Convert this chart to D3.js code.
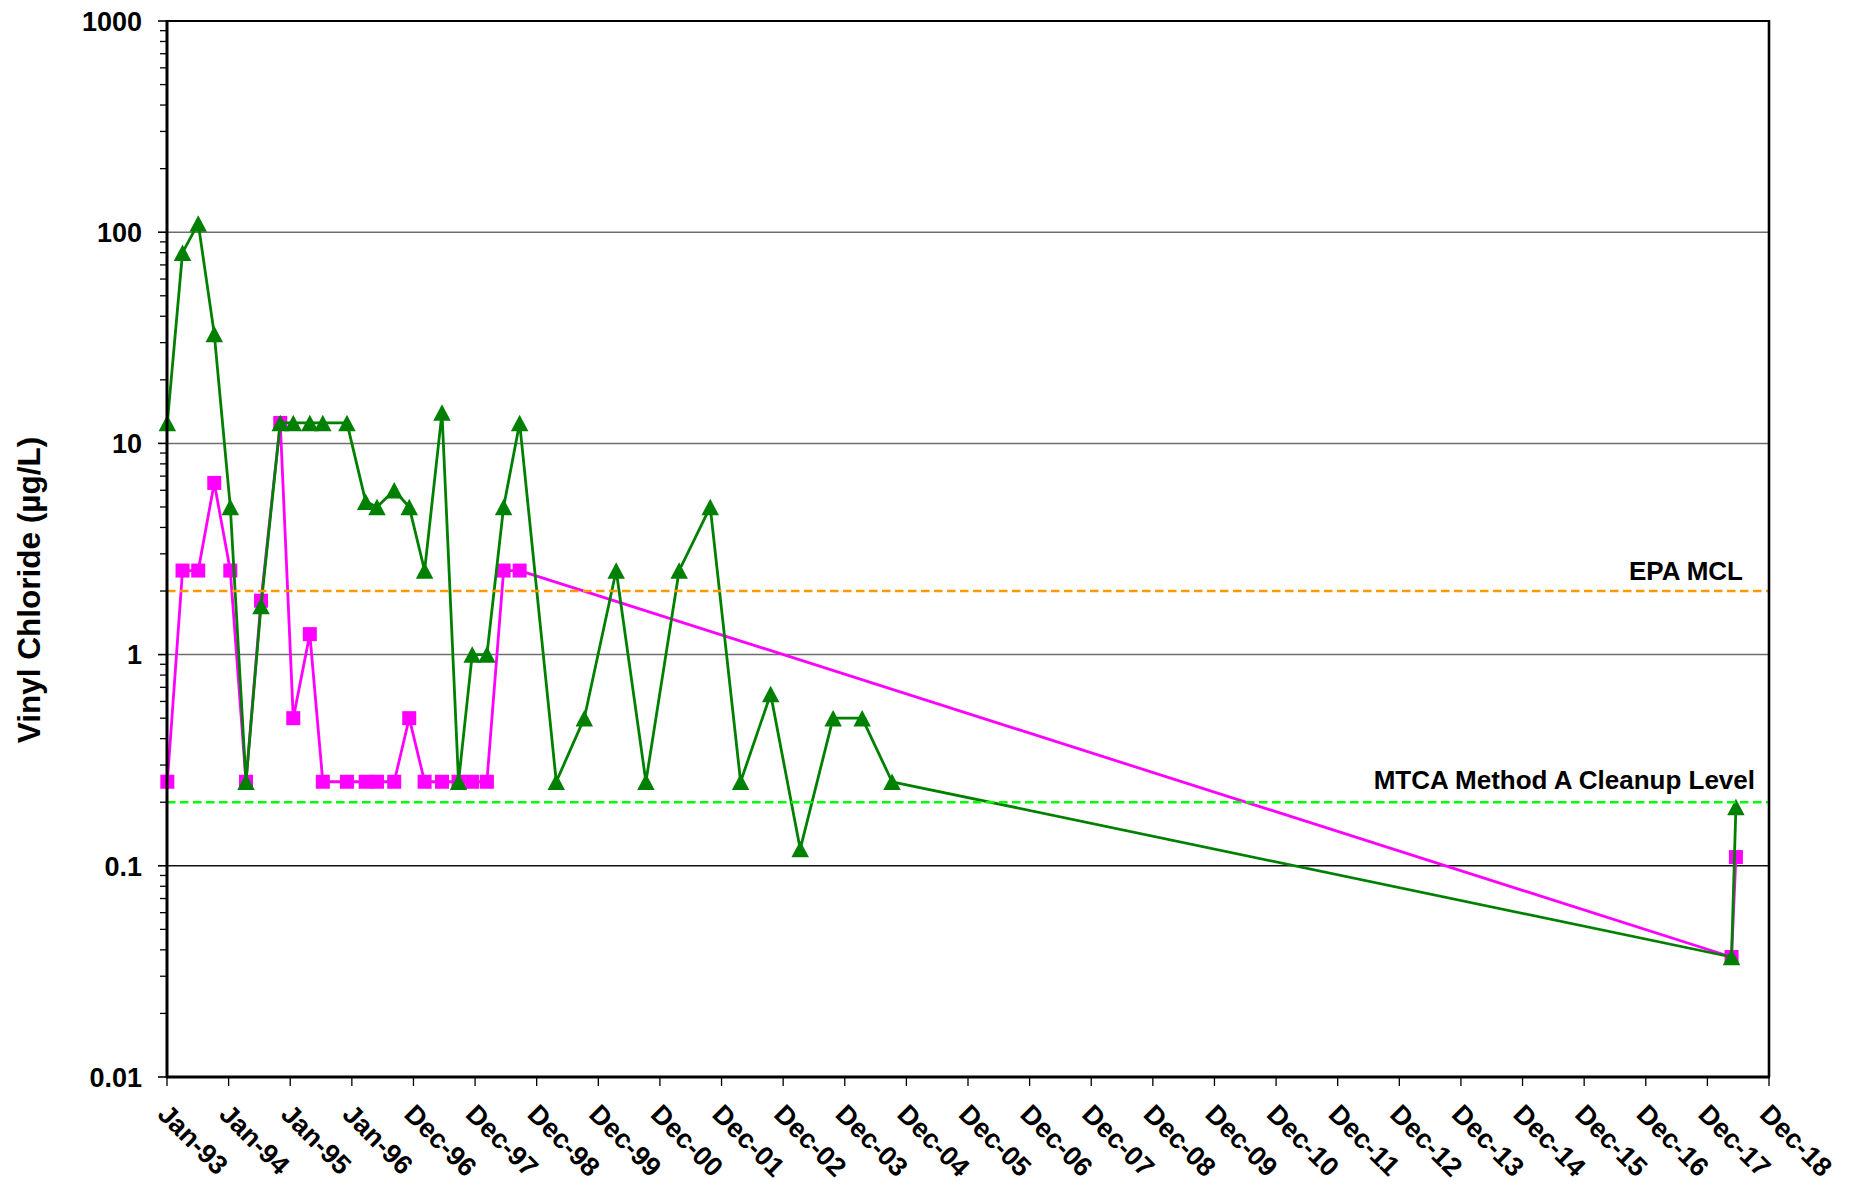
<!DOCTYPE html>
<html>
<head>
<meta charset="utf-8">
<script src="https://cdn.jsdelivr.net/npm/d3@7"></script>
<style>
  html, body { margin: 0; padding: 0; background: #fff; }
  svg { display: block; font-family: "Liberation Sans", Arial, sans-serif; }
</style>
</head>
<body>
<svg id="chart" width="1854" height="1182"></svg>
<script>
// Vinyl chloride concentrations (µg/L), two monitoring series
const earlyDates = ["1993-01-03","1993-04-03","1993-07-05","1993-10-08","1994-01-11","1994-04-14","1994-07-12",
  "1994-11-03","1995-01-19","1995-04-27","1995-07-13","1995-12-03","1996-03-23","1996-05-29","1996-09-08",
  "1996-12-06","1997-03-07","1997-06-18","1997-09-24","1997-12-14","1998-03-11","1998-06-18","1998-09-21"];
const laterDates = ["1999-04-26","1999-10-09","2000-04-15","2000-10-08","2001-04-23","2001-10-24","2002-04-22",
  "2002-10-17","2003-04-10","2003-10-22","2004-04-11","2004-10-05"];
const recentDates = ["2018-05-18","2018-06-13"];

const seriesAValues = [12.5, 80, 110, 33, 5, 0.25, 1.7, 12.5, 12.5, 12.5, 12.5, 12.5, 5.3, 5, 6, 5, 2.5, 14, 0.25, 1, 1, 5, 12.5,
  0.25, 0.5, 2.5, 0.25, 2.5, 5, 0.25, 0.65, 0.12, 0.5, 0.5, 0.25,
  0.037, 0.19];
const seriesBValues = [0.25, 2.5, 2.5, 6.5, 2.5, 0.25, 1.8, 12.5, 0.5, 1.25, 0.25, 0.25, 0.25, 0.25, 0.25, 0.5, 0.25, 0.25, 0.25, 0.25, 0.25, 2.5, 2.5,
  0.037, 0.11];

const seriesADates = earlyDates.concat(laterDates, recentDates);
const seriesBDates = earlyDates.concat(recentDates);

// Regulatory levels
const epaMcl = 2;
const mtcaLevel = 0.2;

const xTickLabels = ["Jan-93","Jan-94","Jan-95","Jan-96","Dec-96","Dec-97","Dec-98","Dec-99","Dec-00","Dec-01",
  "Dec-02","Dec-03","Dec-04","Dec-05","Dec-06","Dec-07","Dec-08","Dec-09","Dec-10","Dec-11","Dec-12","Dec-13",
  "Dec-14","Dec-15","Dec-16","Dec-17","Dec-18"];
const yTickValues = [0.01, 0.1, 1, 10, 100, 1000];
const yTickLabels = ["0.01", "0.1", "1", "10", "100", "1000"];

const parse = d3.timeParse("%Y-%m-%d");
const startDate = parse("1993-01-01");
// date axis ticks are spaced every 365 days
const xTickDates = xTickLabels.map((_, i) => d3.timeDay.offset(startDate, i * 365));

const plot = { left: 167, right: 1769, top: 21, bottom: 1077 };

const svg = d3.select("#chart");
svg.append("rect").attr("width", 1854).attr("height", 1182).attr("fill", "#fff");

const x = d3.scaleTime()
  .domain([startDate, xTickDates[xTickDates.length - 1]])
  .range([plot.left, plot.right]);
const y = d3.scaleLog()
  .domain([0.01, 1000])
  .range([plot.bottom, plot.top]);

// Horizontal gridlines at each decade
const gridVals = [100, 10, 1, 0.1];
svg.append("g").selectAll("line").data(gridVals).join("line")
  .attr("x1", plot.left).attr("x2", plot.right)
  .attr("y1", d => y(d)).attr("y2", d => y(d))
  .attr("stroke", d => d === 0.1 ? "#111" : "#6e6e6e")
  .attr("stroke-width", 1.5);

// Y axis: major and minor ticks (outside)
const minorVals = [];
for (let e = -2; e < 3; e++) for (let m = 2; m <= 9; m++) minorVals.push(m * Math.pow(10, e));
const yAxisG = svg.append("g");
yAxisG.selectAll("line.minor").data(minorVals).join("line")
  .attr("class", "minor")
  .attr("x1", plot.left - 7).attr("x2", plot.left)
  .attr("y1", d => y(d)).attr("y2", d => y(d))
  .attr("stroke", "#000").attr("stroke-width", 1.3);
yAxisG.selectAll("line.major").data(yTickValues).join("line")
  .attr("class", "major")
  .attr("x1", plot.left - 9).attr("x2", plot.left)
  .attr("y1", d => y(d)).attr("y2", d => y(d))
  .attr("stroke", "#000").attr("stroke-width", 1.6);
yAxisG.selectAll("text").data(yTickValues).join("text")
  .attr("x", plot.left - 25)
  .attr("y", d => y(d))
  .attr("dy", "0.36em")
  .attr("text-anchor", "end")
  .attr("font-size", 27).attr("font-weight", "bold")
  .text((d, i) => yTickLabels[i]);

// X axis ticks and rotated labels
const xAxisG = svg.append("g");
xAxisG.selectAll("line").data(xTickDates).join("line")
  .attr("x1", d => x(d)).attr("x2", d => x(d))
  .attr("y1", plot.bottom).attr("y2", plot.bottom + 9)
  .attr("stroke", "#000").attr("stroke-width", 1.3);
xAxisG.selectAll("text").data(xTickDates).join("text")
  .attr("transform", d => `translate(${x(d) + 3},${plot.bottom + 25}) rotate(45)`)
  .attr("dy", "0.72em")
  .attr("text-anchor", "start")
  .attr("font-size", 27).attr("font-weight", "bold")
  .text((d, i) => xTickLabels[i]);

// Y axis title
svg.append("text")
  .attr("transform", `translate(29,${(435 + 745) / 2}) rotate(-90)`)
  .attr("text-anchor", "middle")
  .attr("dy", "0.36em")
  .attr("font-size", 31.5).attr("font-weight", "bold")
  .text("Vinyl Chloride (µg/L)");

// Series
const line = d3.line().x(d => x(d.date)).y(d => y(d.value));
const seriesB = seriesBDates.map((s, i) => ({ date: parse(s), value: seriesBValues[i] }));
const seriesA = seriesADates.map((s, i) => ({ date: parse(s), value: seriesAValues[i] }));

svg.append("path").datum(seriesB)
  .attr("d", line).attr("fill", "none")
  .attr("stroke", "#ff00ff").attr("stroke-width", 2.8).attr("stroke-linejoin", "round");
svg.append("g").selectAll("rect").data(seriesB).join("rect")
  .attr("x", d => x(d.date) - 7).attr("y", d => y(d.value) - 7)
  .attr("width", 14).attr("height", 14)
  .attr("fill", "#ff00ff");

svg.append("path").datum(seriesA)
  .attr("d", line).attr("fill", "none")
  .attr("stroke", "#008000").attr("stroke-width", 2.8).attr("stroke-linejoin", "round");
const tw = 17.5, th = 16.5;
svg.append("g").selectAll("path").data(seriesA).join("path")
  .attr("transform", d => `translate(${x(d.date)},${y(d.value)})`)
  .attr("d", `M0,${-th / 2}L${tw / 2},${th / 2}L${-tw / 2},${th / 2}Z`)
  .attr("fill", "#008000");

// Regulatory reference lines
svg.append("line")
  .attr("x1", plot.left).attr("x2", plot.right)
  .attr("y1", y(epaMcl)).attr("y2", y(epaMcl))
  .attr("stroke", "#ff9900").attr("stroke-width", 2.6).attr("stroke-dasharray", "8.5,4.5");
svg.append("line")
  .attr("x1", plot.left).attr("x2", plot.right)
  .attr("y1", y(mtcaLevel)).attr("y2", y(mtcaLevel))
  .attr("stroke", "#00ff00").attr("stroke-width", 2.6).attr("stroke-dasharray", "8.5,4.5");

svg.append("text")
  .attr("x", 1743).attr("y", y(epaMcl) - 11)
  .attr("text-anchor", "end")
  .attr("font-size", 26).attr("font-weight", "bold")
  .text("EPA MCL");
svg.append("text")
  .attr("x", 1755).attr("y", y(mtcaLevel) - 13)
  .attr("text-anchor", "end")
  .attr("font-size", 26).attr("font-weight", "bold")
  .text("MTCA Method A Cleanup Level");

// Plot frame
svg.append("line").attr("x1", plot.left).attr("x2", plot.right).attr("y1", plot.top).attr("y2", plot.top)
  .attr("stroke", "#000").attr("stroke-width", 2.2);
svg.append("line").attr("x1", plot.right).attr("x2", plot.right).attr("y1", plot.top - 1).attr("y2", plot.bottom)
  .attr("stroke", "#000").attr("stroke-width", 2.6);
svg.append("line").attr("x1", plot.left).attr("x2", plot.left).attr("y1", plot.top - 1).attr("y2", plot.bottom + 1)
  .attr("stroke", "#000").attr("stroke-width", 3);
svg.append("line").attr("x1", plot.left - 1).attr("x2", plot.right + 1).attr("y1", plot.bottom).attr("y2", plot.bottom)
  .attr("stroke", "#000").attr("stroke-width", 3);
</script>
</body>
</html>
